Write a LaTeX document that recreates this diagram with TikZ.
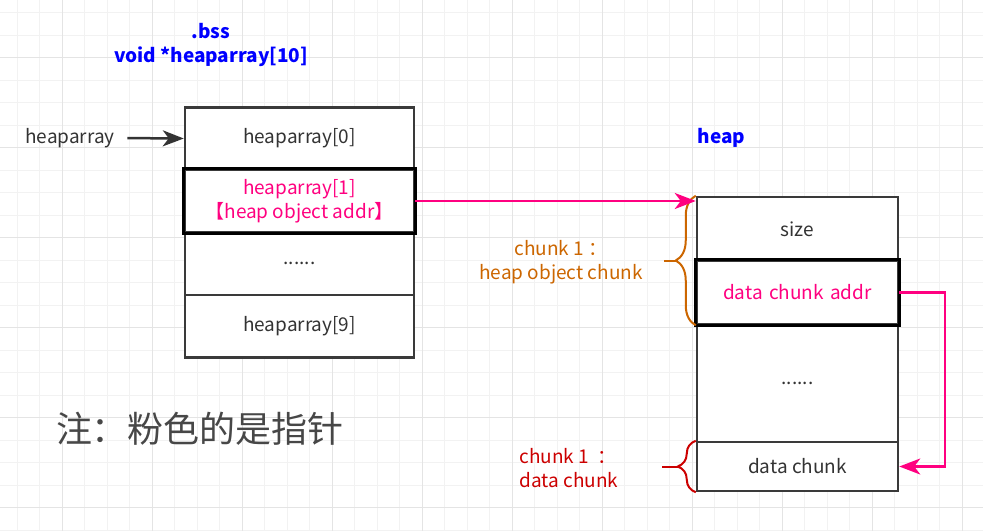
\documentclass[tikz,border=0pt]{standalone}
\usepackage{fontspec}
\setmainfont{Noto Sans CJK SC}
\usetikzlibrary{arrows.meta,decorations.pathreplacing,positioning}
\definecolor{rosa}{HTML}{FF0080}
\definecolor{blu}{HTML}{0000FF}
\definecolor{arancio}{HTML}{CC6600}
\definecolor{rosso}{HTML}{CC0000}
\definecolor{testo}{HTML}{333333}
\definecolor{bordo}{HTML}{3A3A3A}
\definecolor{grigliaA}{HTML}{F2F2F2}
\definecolor{grigliaB}{HTML}{E4E4E4}

\begin{document}
\begin{tikzpicture}[x=1pt, y=-1pt, >={Stealth[length=21pt, width=16pt, inset=6pt]}, font=\fontsize{19}{24}\selectfont, text=testo]
        % Stili
        \tikzstyle{cella} = [draw=bordo, line width=2.5pt, rectangle, fill=white, inner sep=0pt, align=center]
        \tikzstyle{arr} = [cella, minimum width=229pt, minimum height=62.5pt]
        \tikzstyle{hcell} = [cella, minimum width=201pt]
        \tikzstyle{evid} = [draw=black, line width=3pt]
        \tikzstyle{titolo} = [text=blu, font=\fontsize{19}{24}\selectfont\bfseries, align=center]
        \tikzstyle{freccia} = [->, line width=2.5pt]
        \tikzstyle{graffa} = [decorate, line width=2pt]

        \useasboundingbox (0,0) rectangle (983,531);

        % --- Griglia di sfondo ---
        \foreach \gx in {0,...,42} \draw[grigliaA, line width=1pt] (17+22.5*\gx,0) -- (17+22.5*\gx,531);
        \foreach \gy in {0,...,23} \draw[grigliaA, line width=1pt] (0,12.5+22.5*\gy) -- (983,12.5+22.5*\gy);
        \foreach \gx in {0,...,10} \draw[grigliaB, line width=1pt] (62+90*\gx,0) -- (62+90*\gx,531);
        \foreach \gy in {0,...,5} \draw[grigliaB, line width=1pt] (0,57.5+90*\gy) -- (983,57.5+90*\gy);

        % --- Array in .bss ---
        \node [titolo] (bss) at (211,45) {.bss\\void *heaparray[10]};
        \node [arr] (hp0) at (299.5,138.5) {heaparray[0]};
        \node [arr, below of=hp0, node distance=62.5pt, text=rosa] (hp1) {heaparray[1]\\【heap object addr】};
        \node [arr, below of=hp1, node distance=62.5pt] (hpdots) {......};
        \node [arr, below of=hpdots, node distance=62.5pt] (hp9) {heaparray[9]};
        \draw [evid] (hp1.north west) rectangle (hp1.south east);

        % Puntatore heaparray
        \node (ptr) at (70,138) {heaparray};

        % --- Heap ---
        \node [titolo, anchor=west] (heap) at (694,138) {heap};
        \node [hcell, minimum height=64pt] (size) at (797.5,229) {size};
        \node [hcell, minimum height=63pt, below of=size, node distance=63.5pt, text=rosa] (addr) {data\,\,chunk\,\,addr};
        \node [hcell, minimum height=118pt, below of=addr, node distance=90.5pt] (hdots) {......};
        \node [hcell, minimum height=49pt, below of=hdots, node distance=83.5pt] (data) {data chunk};
        \draw [evid] (addr.north west) rectangle (addr.south east);

        % --- Graffe ---
        \draw [graffa, arancio, decoration={brace, amplitude=20pt}] (addr.south west) -- (size.north west)
            coordinate[midway] (m1);
        \draw [arancio, line width=2pt] ([xshift=-19pt]m1) -- ([xshift=-32pt]m1);
        \draw [graffa, rosso, decoration={brace, amplitude=18pt}] (data.south west) -- (data.north west)
            coordinate[midway] (m2);
        \draw [rosso, line width=2pt] ([xshift=-17pt]m2) -- ([xshift=-34pt]m2);

        \node [text=arancio, align=center] (c1obj) at (561,262) {chunk 1 ：\\heap object chunk};
        \node [text=rosso, align=left, anchor=west] (c1data) at (516,468) {chunk 1 \ ：\\data chunk};

        % Nota
        \node [font=\fontsize{36}{40}\selectfont, text=black!72] (nota) at (200,429) {注：粉色的是指针};

        % --- Collegamenti ---
        \draw [freccia, testo, shorten <=9pt] (ptr.east) -- (hp0.west);
        \draw [freccia, rosa] (hp1.east) -- (hp1.east -| size.west);
        \coordinate (giro) at (945,292.5);
        \draw [freccia, rosa] (addr.east) -- (giro) |- (data.east);

    \end{tikzpicture}
\end{document}
